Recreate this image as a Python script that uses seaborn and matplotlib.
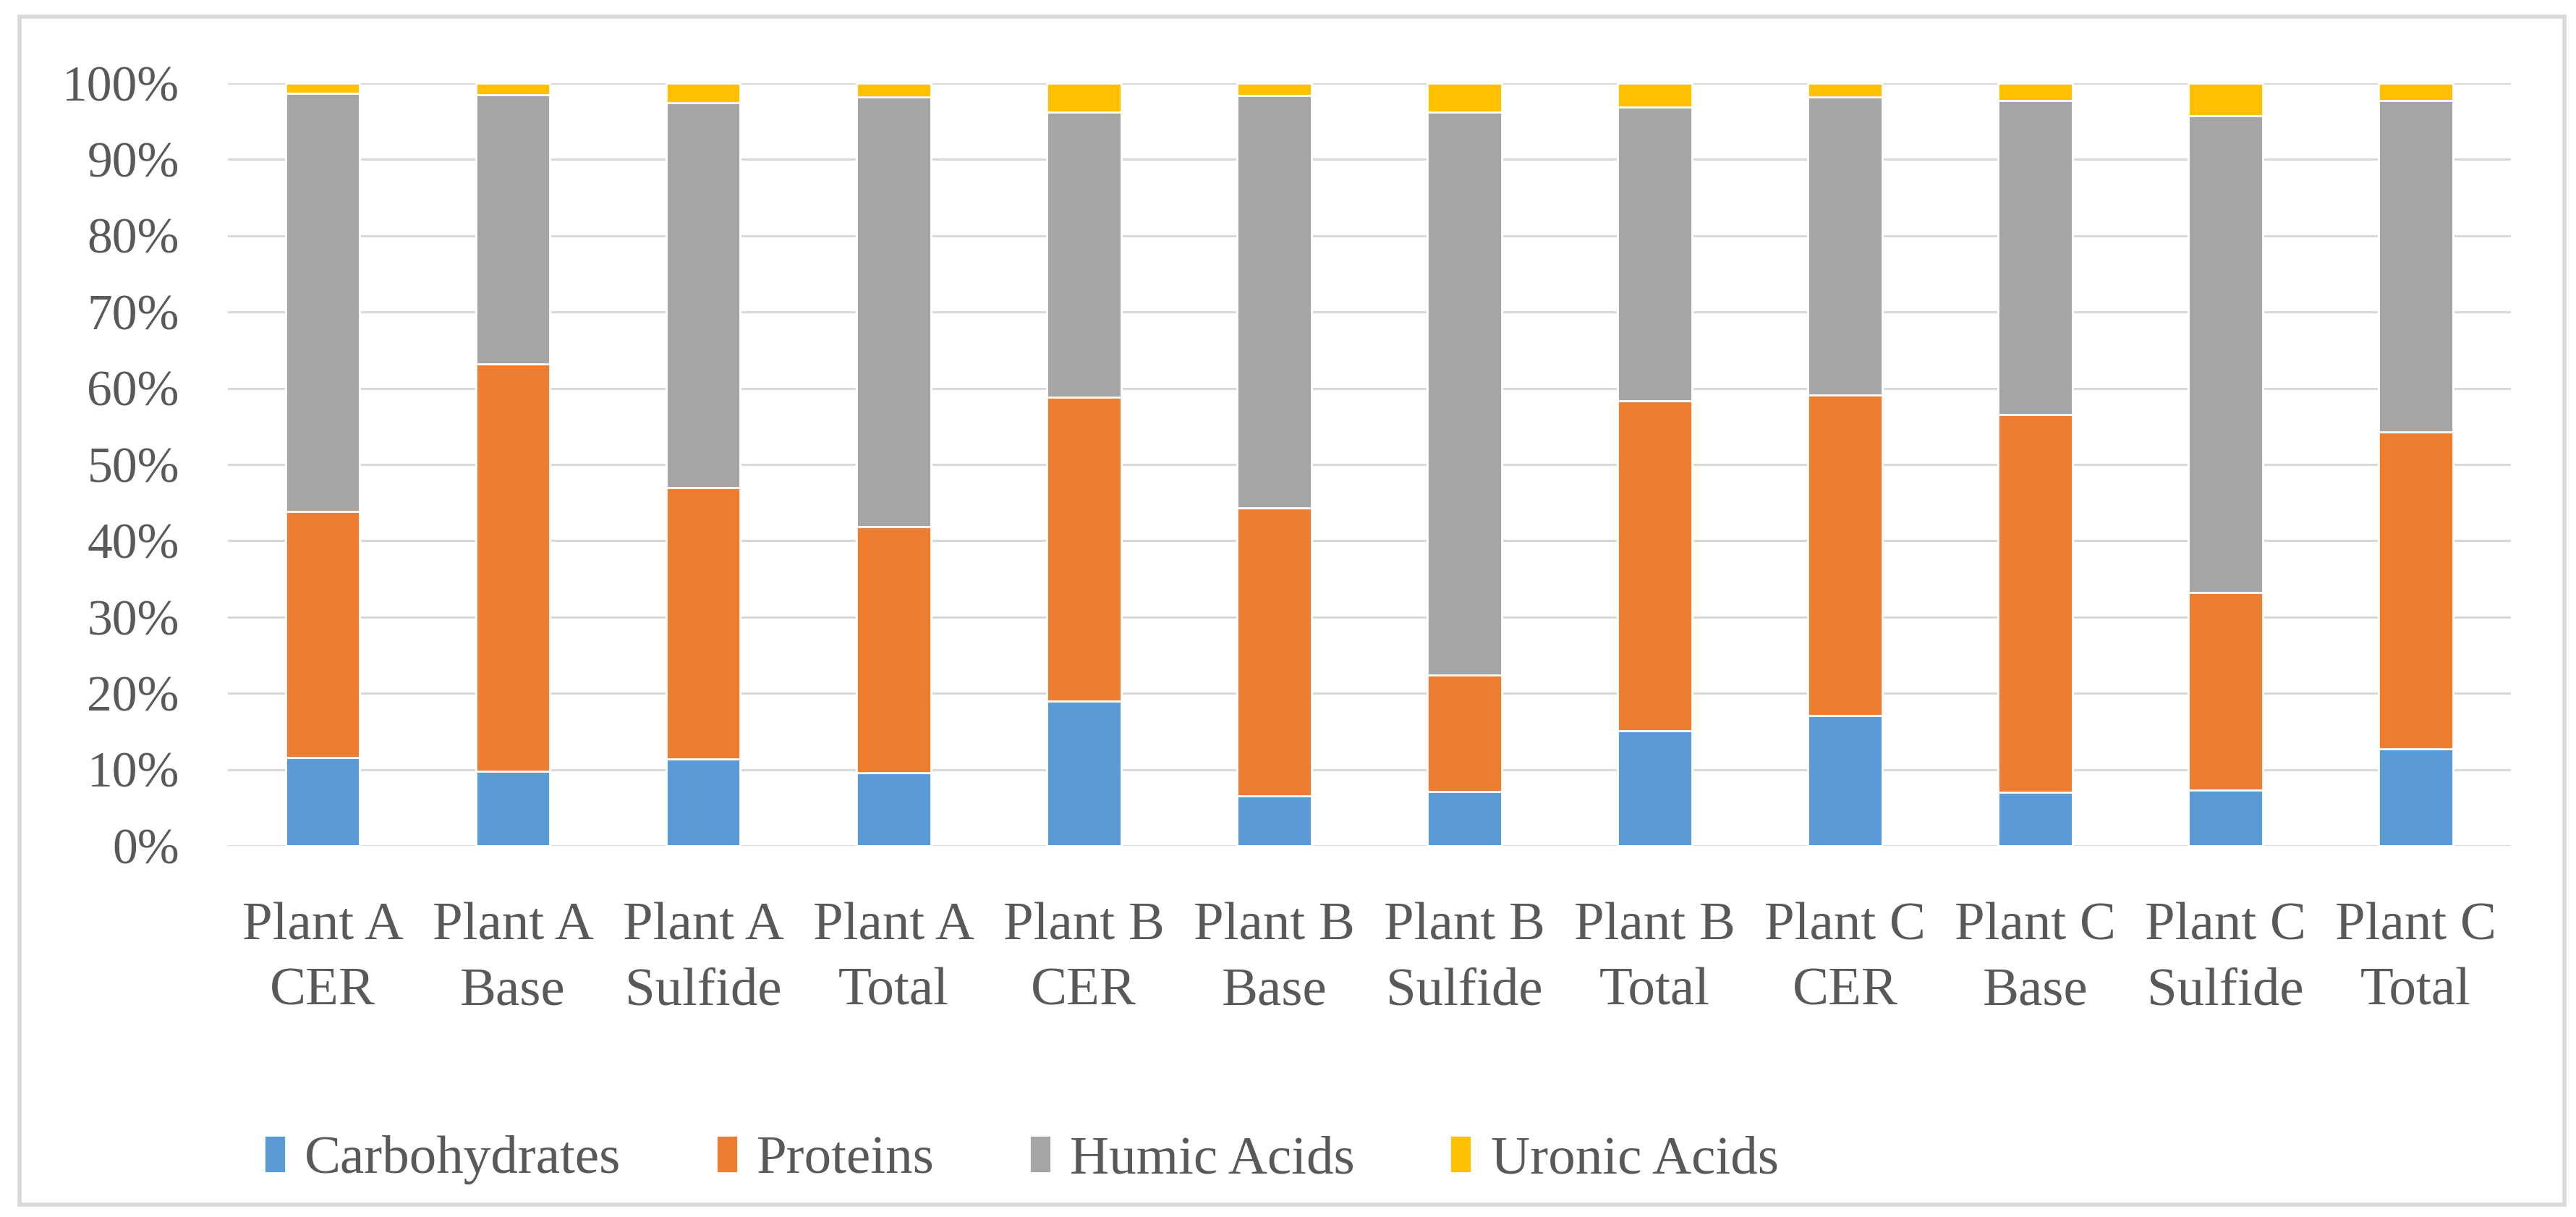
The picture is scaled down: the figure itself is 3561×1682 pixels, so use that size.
import numpy as np
import pandas as pd
import matplotlib
matplotlib.use("Agg")
import matplotlib.pyplot as plt
from matplotlib.ticker import PercentFormatter
from matplotlib.patches import Rectangle
import seaborn as sns

# samples on the x axis
samples = ["Plant A\nCER", "Plant A\nBase", "Plant A\nSulfide", "Plant A\nTotal",
           "Plant B\nCER", "Plant B\nBase", "Plant B\nSulfide", "Plant B\nTotal",
           "Plant C\nCER", "Plant C\nBase", "Plant C\nSulfide", "Plant C\nTotal"]

# shares of each fraction (in %)
carbohydrates = [11.6, 9.8, 11.4, 9.6, 19.0, 6.5, 7.1, 15.1, 17.1, 7.0, 7.3, 12.7]
proteins = [32.2, 53.4, 35.6, 32.2, 39.8, 37.8, 15.3, 43.2, 42.0, 49.5, 25.9, 41.6]
humic_acids = [54.9, 35.3, 50.4, 56.4, 37.4, 54.1, 73.8, 38.6, 39.1, 41.2, 62.5, 43.4]
uronic_acids = [1.3, 1.5, 2.6, 1.8, 3.8, 1.6, 3.8, 3.1, 1.8, 2.3, 4.3, 2.3]

series = ["Carbohydrates", "Proteins", "Humic Acids", "Uronic Acids"]
colors = ["#5B9BD5", "#ED7D31", "#A5A5A5", "#FFC000"]

df = pd.DataFrame({"Carbohydrates": carbohydrates, "Proteins": proteins,
                   "Humic Acids": humic_acids, "Uronic Acids": uronic_acids},
                  index=samples)
df = df.div(df.sum(axis=1), axis=0)
cum = df.cumsum(axis=1)

sns.set_theme(style="white")
plt.rcParams["font.family"] = ["Liberation Serif", "DejaVu Serif"]
text_col = "#595959"

fig = plt.figure(figsize=(17.81, 8.41), dpi=200)
ax = fig.add_axes([0.0883, 0.305, 0.9745 - 0.0883, 0.9317 - 0.305])

# stacked bars: draw cumulative totals from the top layer down
for name, col in reversed(list(zip(series, colors))):
    sns.barplot(x=cum.index, y=cum[name], color=col, width=0.39, saturation=1,
                ax=ax, label=name, zorder=3)

ax.set_ylim(0, 1)
ax.set_xlim(-0.5, len(samples) - 0.5)
ax.set_yticks(np.arange(0, 1.01, 0.1))
ax.yaxis.set_major_formatter(PercentFormatter(1.0, decimals=0))
ax.grid(axis="y", color="#d9d9d9", linewidth=1.1, zorder=0)
ax.set_axisbelow(True)
for s in ax.spines.values():
    s.set_visible(False)
ax.set_xlabel("")
ax.set_ylabel("")
ax.tick_params(axis="y", length=0, pad=24, labelsize=25, labelcolor=text_col)
ax.tick_params(axis="x", length=0, pad=28, labelsize=27, labelcolor=text_col)
for t in ax.get_xticklabels():
    t.set_linespacing(1.45)

handles, labels = ax.get_legend_handles_labels()
order = [labels.index(s) for s in series]
if ax.legend_:
    ax.legend_.remove()
fig.legend([handles[i] for i in order], series, loc="center left",
           bbox_to_anchor=(0.094, 0.047), ncol=4, frameon=False, fontsize=27,
           labelcolor=text_col, handlelength=0.4, handleheight=0.7,
           handletextpad=0.35, columnspacing=1.75, borderaxespad=0)

fig.patches.append(Rectangle((0.0076, 0.0101), 0.9952 - 0.0076, 0.9863 - 0.0101,
                             transform=fig.transFigure, fill=False,
                             edgecolor="#d9d9d9", linewidth=2))

fig.savefig("out.png", dpi=200)
